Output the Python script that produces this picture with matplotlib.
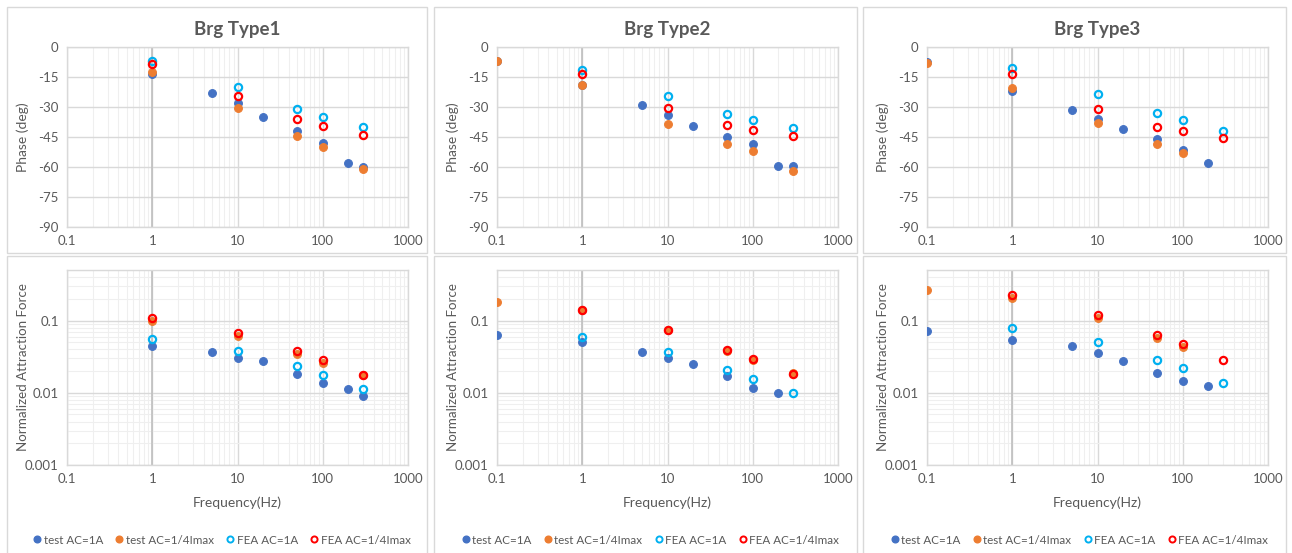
import matplotlib
matplotlib.use("Agg")
import matplotlib.pyplot as plt
import matplotlib.ticker as mt
from matplotlib.lines import Line2D
from matplotlib.patches import Rectangle

plt.rcParams['font.family'] = ['Lato', 'DejaVu Sans']

# ---------------- data ----------------
titles = ["Brg Type1", "Brg Type2", "Brg Type3"]
series_names = ["test AC=1A", "test AC=1/4Imax", "FEA AC=1A", "FEA AC=1/4Imax"]

# Type1
t1_test1A_f = [1, 5, 10, 20, 50, 100, 200, 300]
t1_test1A_ph = [-13.3, -22.8, -28.2, -35.2, -42.0, -48.0, -57.8, -59.8]
t1_test1A_F = [0.044, 0.0372, 0.0307, 0.0276, 0.0184, 0.0136, 0.0111, 0.0090]
t1_testQ_f = [1, 10, 50, 100, 300]
t1_testQ_ph = [-12.5, -30.7, -44.5, -50.2, -61.2]
t1_testQ_F = [0.097, 0.062, 0.0345, 0.0262, 0.0175]
t1_fea1A_f = [1, 10, 50, 100, 300]
t1_fea1A_ph = [-7.2, -19.8, -31.2, -34.8, -40.0]
t1_fea1A_F = [0.0546, 0.0384, 0.0233, 0.0177, 0.0113]
t1_feaQ_f = [1, 10, 50, 100, 300]
t1_feaQ_ph = [-8.5, -24.7, -35.8, -39.5, -43.8]
t1_feaQ_F = [0.108, 0.068, 0.038, 0.0288, 0.0175]

# Type2
t2_test1A_f = [0.1, 1, 5, 10, 20, 50, 100, 200, 300]
t2_test1A_ph = [-6.8, -19.0, -29.2, -34.2, -39.5, -45.0, -48.7, -59.5, -59.3]
t2_test1A_F_f = [0.1, 1, 5, 10, 20, 50, 100, 200]
t2_test1A_F = [0.0626, 0.0506, 0.0364, 0.0301, 0.0253, 0.0169, 0.0118, 0.00995]
t2_testQ_f = [0.1, 1, 10, 50, 100, 300]
t2_testQ_ph = [-6.8, -19.2, -38.3, -48.5, -51.8, -61.8]
t2_testQ_F = [0.1775, 0.1406, 0.0743, 0.0384, 0.0282, 0.019]
t2_fea1A_f = [1, 10, 50, 100, 300]
t2_fea1A_ph = [-11.5, -24.5, -33.7, -36.7, -40.5]
t2_fea1A_F = [0.0587, 0.0364, 0.0207, 0.0156, 0.00995]
t2_feaQ_f = [1, 10, 50, 100, 300]
t2_feaQ_ph = [-13.7, -30.7, -39.0, -41.5, -44.7]
t2_feaQ_F = [0.1406, 0.075, 0.0392, 0.0291, 0.018]

# Type3
t3_test1A_f = [0.1, 1, 5, 10, 20, 50, 100, 200]
t3_test1A_ph = [-7.7, -21.8, -31.7, -36.0, -40.8, -45.8, -51.3, -58.0]
t3_test1A_F = [0.0719, 0.054, 0.044, 0.0352, 0.0279, 0.0188, 0.0146, 0.0123]
t3_testQ_f = [0.1, 1, 10, 50, 100]
t3_testQ_ph = [-8.0, -20.5, -38.2, -48.3, -53.2]
t3_testQ_F = [0.263, 0.2017, 0.109, 0.0569, 0.0431]
t3_fea1A_f = [1, 10, 50, 100, 300]
t3_fea1A_ph = [-10.5, -23.7, -33.0, -36.7, -42.2]
t3_fea1A_F = [0.0791, 0.0501, 0.0285, 0.0219, 0.0138]
t3_feaQ_f = [1, 10, 50, 100, 300]
t3_feaQ_ph = [-13.5, -30.8, -39.8, -42.2, -45.5]
t3_feaQ_F = [0.2244, 0.12, 0.0626, 0.047, 0.0285]

phase_sets = [
    [(t1_test1A_f, t1_test1A_ph), (t1_testQ_f, t1_testQ_ph), (t1_fea1A_f, t1_fea1A_ph), (t1_feaQ_f, t1_feaQ_ph)],
    [(t2_test1A_f, t2_test1A_ph), (t2_testQ_f, t2_testQ_ph), (t2_fea1A_f, t2_fea1A_ph), (t2_feaQ_f, t2_feaQ_ph)],
    [(t3_test1A_f, t3_test1A_ph), (t3_testQ_f, t3_testQ_ph), (t3_fea1A_f, t3_fea1A_ph), (t3_feaQ_f, t3_feaQ_ph)],
]
force_sets = [
    [(t1_test1A_f, t1_test1A_F), (t1_testQ_f, t1_testQ_F), (t1_fea1A_f, t1_fea1A_F), (t1_feaQ_f, t1_feaQ_F)],
    [(t2_test1A_F_f, t2_test1A_F), (t2_testQ_f, t2_testQ_F), (t2_fea1A_f, t2_fea1A_F), (t2_feaQ_f, t2_feaQ_F)],
    [(t3_test1A_f, t3_test1A_F), (t3_testQ_f, t3_testQ_F), (t3_fea1A_f, t3_fea1A_F), (t3_feaQ_f, t3_feaQ_F)],
]

x_ticks = [0.1, 1, 10, 100, 1000]
x_ticklabels = ["0.1", "1", "10", "100", "1000"]
phase_ticks = [0, -15, -30, -45, -60, -75, -90]
force_ticks = [0.001, 0.01, 0.1]
force_ticklabels = ["0.001", "0.01", "0.1"]

# ---------------- styles ----------------
colors = ["#4472C4", "#ED7D31", "#00B0F0", "#FF0000"]
filled = [True, True, False, False]
TXT = "#595959"
MAJ = "#D9D9D9"
MIN = "#EFEFEF"

W, H = 1292, 553
fig = plt.figure(figsize=(W / 100, H / 100), dpi=100)


def ax_px(l, t, r, b):
    return fig.add_axes([l / W, 1 - b / H, (r - l) / W, (b - t) / H])


def box_px(l, t, r, b):
    fig.patches.append(Rectangle((l / W, 1 - b / H), (r - l) / W, (b - t) / H,
                                 transform=fig.transFigure, fill=False,
                                 edgecolor="#D9D9D9", lw=1.0, zorder=0))


def style_common(ax):
    ax.set_xscale("log")
    ax.set_xlim(0.1, 1000)
    ax.set_xticks(x_ticks)
    ax.set_xticklabels(x_ticklabels)
    ax.xaxis.set_minor_locator(mt.LogLocator(base=10, subs=range(2, 10), numticks=20))
    ax.xaxis.set_minor_formatter(mt.NullFormatter())
    ax.tick_params(which="both", length=0, colors=TXT, labelsize=9.5, pad=6)
    ax.grid(which="major", color=MAJ, lw=1.0)
    ax.grid(which="minor", axis="x", color=MIN, lw=0.8)
    for s in ax.spines.values():
        s.set_color(MAJ)
        s.set_linewidth(1.0)
    ax.set_axisbelow(True)
    ax.axvline(1, color="#BFBFBF", lw=1.2, zorder=1)


def plot_series(ax, sets):
    for (fx, fy), c, fl in zip(sets, colors, filled):
        if fl:
            ax.plot(fx, fy, ls="none", marker="o", ms=5.6, mfc=c, mec=c, mew=0.8, zorder=3)
        else:
            ax.plot(fx, fy, ls="none", marker="o", ms=5.2, mfc="none", mec=c, mew=1.6, zorder=3)


lefts = [67, 497, 927]
box_x = [(7, 427), (434, 857), (863, 1286)]
AXW = 341
label_x = (29 - 67) / AXW

for i in range(3):
    l = lefts[i]
    r = l + AXW
    bx0, bx1 = box_x[i]
    box_px(bx0, 7, bx1, 253)
    box_px(bx0, 256, bx1, 560)

    # phase
    ax = ax_px(l, 47, r, 227)
    style_common(ax)
    ax.set_ylim(-90, 0)
    ax.set_yticks(phase_ticks)
    ax.set_yticklabels([str(v) for v in phase_ticks])
    plot_series(ax, phase_sets[i])
    ax.set_ylabel("Phase (deg)", color=TXT, fontsize=10)
    ax.yaxis.set_label_coords(label_x, 0.5)
    ax.set_title(titles[i], color=TXT, fontsize=13.5, fontweight="bold", pad=9)

    # force
    ax2 = ax_px(l, 270, r, 465)
    style_common(ax2)
    ax2.set_yscale("log")
    ax2.set_ylim(0.001, 0.5)
    ax2.set_yticks(force_ticks)
    ax2.set_yticklabels(force_ticklabels)
    ax2.yaxis.set_minor_locator(mt.LogLocator(base=10, subs=range(2, 10), numticks=20))
    ax2.yaxis.set_minor_formatter(mt.NullFormatter())
    ax2.grid(which="minor", axis="y", color=MIN, lw=0.8)
    ax2.tick_params(which="both", length=0, colors=TXT, labelsize=9.5, pad=6)
    plot_series(ax2, force_sets[i])
    ax2.set_ylabel("Normalized Attraction Force", color=TXT, fontsize=9.6)
    ax2.yaxis.set_label_coords(label_x, 0.5)
    ax2.set_xlabel("Frequency(Hz)", color=TXT, fontsize=10, labelpad=8)

    handles = []
    for c, fl, nm in zip(colors, filled, series_names):
        if fl:
            handles.append(Line2D([], [], ls="none", marker="o", ms=4.8, mfc=c, mec=c, label=nm))
        else:
            handles.append(Line2D([], [], ls="none", marker="o", ms=4.4, mfc="none", mec=c, mew=1.4, label=nm))
    cx = (bx0 + bx1) / 2 + 4
    fig.legend(handles=handles, loc="center", bbox_to_anchor=(cx / W, 1 - 540 / H),
               ncol=4, frameon=False, fontsize=8.4, labelcolor=TXT,
               handletextpad=0.05, columnspacing=0.9, handlelength=1.0, borderpad=0.2)

fig.savefig("out.png", dpi=100, facecolor="white")
